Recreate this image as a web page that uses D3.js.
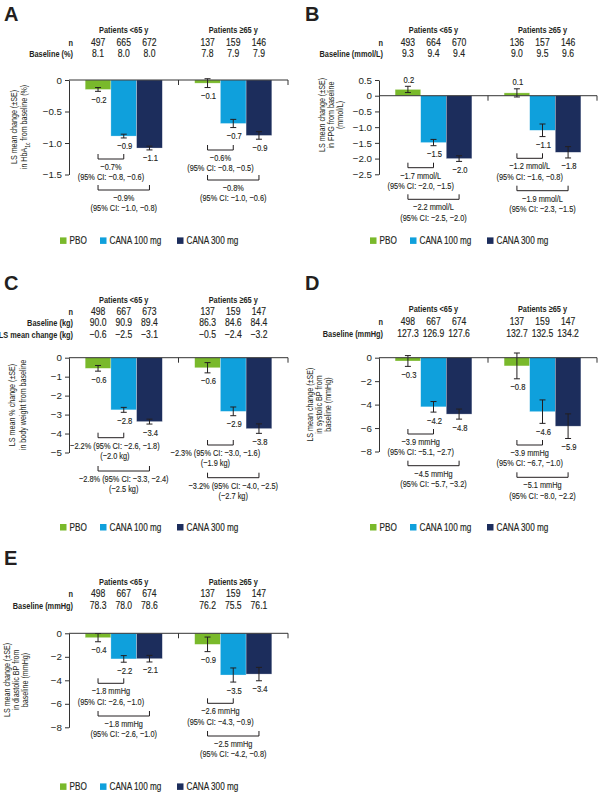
<!DOCTYPE html>
<html><head><meta charset="utf-8">
<script src="https://cdn.jsdelivr.net/npm/d3@7"></script>
<style>
html,body{margin:0;padding:0;background:#fff;}
svg{display:block;}
text{font-family:"Liberation Sans",Arial,Helvetica,sans-serif;fill:#231f20;}
.letter{font-weight:bold;font-size:20px;}
.hdr{font-weight:bold;font-size:9px;}
.cell{font-size:10.5px;stroke:#231f20;stroke-width:0.15px;}
.val{font-size:9.3px;stroke:#231f20;stroke-width:0.15px;}
.ann{font-size:9px;stroke:#231f20;stroke-width:0.12px;}
.ylab{font-size:8.7px;}
.leg{font-size:10px;stroke:#231f20;stroke-width:0.15px;}
.tick text{font-size:9.8px;fill:#231f20;}
</style></head><body>
<svg id="chart" width="600" height="792"></svg>
<script>
// ---------- shared categories ----------
const groups = ["Patients <65 y", "Patients \u226565 y"];
const treatments = ["PBO", "CANA 100 mg", "CANA 300 mg"];
const colors = ["#79b92b", "#0fa0dc", "#1c2d5c"];

// ---------- A: HbA1c ----------
const nA = [[497, 665, 672], [137, 159, 146]];
const baselineA = [[8.1, 8.0, 8.0], [7.8, 7.9, 7.9]];
const meanA = [[-0.15, -0.89, -1.08], [-0.05, -0.69, -0.88]];
const seA = [[0.03, 0.03, 0.03], [0.07, 0.065, 0.06]];
const labelA = [[-0.2, -0.9, -1.1], [-0.1, -0.7, -0.9]];
const diffA = [[["\u22120.7%", "(95% CI: \u22120.8, \u22120.6)"], ["\u22120.9%", "(95% CI: \u22121.0, \u22120.8)"]],
               [["\u22120.6%", "(95% CI: \u22120.8, \u22120.5)"], ["\u22120.8%", "(95% CI: \u22121.0, \u22120.6)"]]];
const ticksA = [0, -0.5, -1.0, -1.5];

// ---------- B: FPG ----------
const nB = [[493, 664, 670], [136, 157, 146]];
const baselineB = [[9.3, 9.4, 9.4], [9.0, 9.5, 9.6]];
const meanB = [[0.2, -1.49, -2.0], [0.09, -1.1, -1.8]];
const seB = [[0.1, 0.1, 0.09], [0.13, 0.2, 0.18]];
const labelB = [[0.2, -1.5, -2.0], [0.1, -1.1, -1.8]];
const diffB = [[["\u22121.7 mmol/L", "(95% CI: \u22122.0, \u22121.5)"], ["\u22122.2 mmol/L", "(95% CI: \u22122.5, \u22122.0)"]],
               [["\u22121.2 mmol/L", "(95% CI: \u22121.6, \u22120.8)"], ["\u22121.9 mmol/L", "(95% CI: \u22122.3, \u22121.5)"]]];
const ticksB = [0.5, 0, -0.5, -1.0, -1.5, -2.0, -2.5];

// ---------- C: body weight ----------
const nC = [[498, 667, 673], [137, 159, 147]];
const baselineC = [[90.0, 90.9, 89.4], [86.3, 84.6, 84.4]];
const kgChangeC = [[-0.6, -2.5, -3.1], [-0.5, -2.4, -3.2]];
const meanC = [[-0.56, -2.75, -3.37], [-0.53, -2.83, -3.74]];
const seC = [[0.15, 0.13, 0.13], [0.27, 0.23, 0.25]];
const labelC = [[-0.6, -2.8, -3.4], [-0.6, -2.9, -3.8]];
const diffC = [[["\u22122.2% (95% CI: \u22122.6, \u22121.8)", "(\u22122.0 kg)"], ["\u22122.8% (95% CI: \u22123.3, \u22122.4)", "(\u22122.5 kg)"]],
               [["\u22122.3% (95% CI: \u22123.0, \u22121.6)", "(\u22121.9 kg)"], ["\u22123.2% (95% CI: \u22124.0, \u22122.5)", "(\u22122.7 kg)"]]];
const ticksC = [0, -1, -2, -3, -4, -5];

// ---------- D: systolic BP ----------
const nD = [[498, 667, 674], [137, 159, 147]];
const baselineD = [[127.3, 126.9, 127.6], [132.7, 132.5, 134.2]];
const meanD = [[-0.28, -4.19, -4.81], [-0.7, -4.6, -5.84]];
const seD = [[0.46, 0.45, 0.43], [1.1, 1.0, 1.05]];
const labelD = [[-0.3, -4.2, -4.8], [-0.8, -4.6, -5.9]];
const diffD = [[["\u22123.9 mmHg", "(95% CI: \u22125.1, \u22122.7)"], ["\u22124.5 mmHg", "(95% CI: \u22125.7, \u22123.2)"]],
               [["\u22123.9 mmHg", "(95% CI: \u22126.7, \u22121.0)"], ["\u22125.1 mmHg", "(95% CI: \u22128.0, \u22122.2)"]]];
const ticksD = [0, -2, -4, -6, -8];

// ---------- E: diastolic BP ----------
const nE = [[498, 667, 674], [137, 159, 147]];
const baselineE = [[78.3, 78.0, 78.6], [76.2, 75.5, 76.1]];
const meanE = [[-0.37, -2.18, -2.16], [-0.94, -3.55, -3.47]];
const seE = [[0.35, 0.28, 0.28], [0.62, 0.6, 0.57]];
const labelE = [[-0.4, -2.2, -2.1], [-0.9, -3.5, -3.4]];
const diffE = [[["\u22121.8 mmHg", "(95% CI: \u22122.6, \u22121.0)"], ["\u22121.8 mmHg", "(95% CI: \u22122.6, \u22121.0)"]],
               [["\u22122.6 mmHg", "(95% CI: \u22124.3, \u22120.9)"], ["\u22122.5 mmHg", "(95% CI: \u22124.2, \u22120.8)"]]];
const ticksE = [0, -2, -4, -6, -8];

// ---------- panel definitions (data references) ----------
const f1 = d3.format(".1f"), fd = d3.format("d");
const tf1 = v => v === 0 ? "0" : f1(v);
const panels = [
  {id: "A", rows: [{label: "n", values: nA, fmt: fd}, {label: "Baseline (%)", values: baselineA, fmt: f1}],
   mean: meanA, se: seA, label: labelA, diff: diffA, ticks: ticksA, tfmt: tf1, domain: [0, -1.5],
   ylab: ["LS mean change (\u00b1SE)", "in HbA{1c} from baseline (%)"]},
  {id: "B", rows: [{label: "n", values: nB, fmt: fd}, {label: "Baseline (mmol/L)", values: baselineB, fmt: f1}],
   mean: meanB, se: seB, label: labelB, diff: diffB, ticks: ticksB, tfmt: tf1, domain: [0.5, -2.5],
   ylab: ["LS mean change (\u00b1SE)", "in FPG from baseline", "(mmol/L)"]},
  {id: "C", rows: [{label: "n", values: nC, fmt: fd}, {label: "Baseline (kg)", values: baselineC, fmt: f1},
                   {label: "LS mean change (kg)", values: kgChangeC, fmt: f1}],
   mean: meanC, se: seC, label: labelC, diff: diffC, ticks: ticksC, tfmt: fd, domain: [0, -5],
   ylab: ["LS mean % change (\u00b1SE)", "in body weight from baseline"]},
  {id: "D", rows: [{label: "n", values: nD, fmt: fd}, {label: "Baseline (mmHg)", values: baselineD, fmt: f1}],
   mean: meanD, se: seD, label: labelD, diff: diffD, ticks: ticksD, tfmt: fd, domain: [0, -8],
   ylab: ["LS mean change (\u00b1SE)", "in systolic BP from", "baseline (mmHg)"]},
  {id: "E", rows: [{label: "n", values: nE, fmt: fd}, {label: "Baseline (mmHg)", values: baselineE, fmt: f1}],
   mean: meanE, se: seE, label: labelE, diff: diffE, ticks: ticksE, tfmt: fd, domain: [0, -8],
   ylab: ["LS mean change (\u00b1SE)", "in diastolic BP from", "baseline (mmHg)"]}
];

// ---------- layout (positions only) ----------
const layouts = {
  A: {lx: 4, ly: 21, x0: 69, x1: 288, yTop: 80, yBot: 174.5, rows: [32.5, 45.5, 56.5], legY: 240.7,
      ylabX: [13.5, 24], ylabY: 127, br: [[159, 190], [150, 180]], brDx: [[0, 0], [0, 0]]},
  B: {lx: 305, ly: 21, x0: 379, x1: 597, yTop: 80, yBot: 174.3, rows: [32.5, 45.5, 56.5], legY: 240.7,
      ylabX: [322, 331, 340], ylabY: 115, br: [[167.7, 199.3], [158.3, 190.7]], brDx: [[0, 0], [0, 0]]},
  C: {lx: 4, ly: 290, x0: 69, x1: 288, yTop: 357.7, yBot: 452.5, rows: [302.5, 314.5, 326, 338], legY: 527.3,
      ylabX: [12, 23], ylabY: 405, br: [[437.7, 471], [445, 477.7]], brDx: [[4, 0], [-5, 0]]},
  D: {lx: 305, ly: 290, x0: 379, x1: 597, yTop: 357.7, yBot: 451.5, rows: [311.5, 324.5, 336.8], legY: 527.3,
      ylabX: [310, 319, 328], ylabY: 404.6, br: [[434, 465.7], [445, 477.3]], brDx: [[0, 0], [0, 0]]},
  E: {lx: 4, ly: 565, x0: 69, x1: 288, yTop: 633.3, yBot: 727.3, rows: [584.5, 597, 608.5], legY: 786.7,
      ylabX: [7, 16, 25], ylabY: 680, br: [[683.3, 716], [703.3, 736]], brDx: [[0, 0], [0, 0]]}
};

const svg = d3.select("#chart");
const ink = "#231f20";
const SX = 0.82, SY = 1.05; // condensed face look

function ntext(parent, x, y, str, cls, anchor) {
  return parent.append("text").attr("class", cls).attr("text-anchor", anchor || "start")
    .attr("transform", `translate(${x},${y}) scale(${SX},${SY})`).text(str);
}

function addRich(sel, str) {
  const parts = str.split(/(\{[^}]*\})/);
  parts.forEach(pt => {
    if (!pt) return;
    if (pt[0] === "{") sel.append("tspan").attr("baseline-shift", "sub").attr("font-size", "6px").text(pt.slice(1, -1));
    else sel.append("tspan").text(pt);
  });
}

function drawPanel(P, L) {
  const g = svg.append("g");
  const xG = d3.scaleBand().domain(groups).range([L.x0, L.x1]);
  const xT = d3.scaleBand().domain(treatments).range([0, xG.bandwidth()]).paddingOuter(0.63);
  const y = d3.scaleLinear().domain(P.domain).range([L.yTop, L.yBot]);
  const bx = (gi, ti) => xG(groups[gi]) + xT(treatments[ti]);
  const cx = (gi, ti) => bx(gi, ti) + xT.bandwidth() / 2;

  g.append("text").attr("class", "letter").attr("x", L.lx).attr("y", L.ly).text(P.id);

  // header table
  groups.forEach((grp, gi) => ntext(g, xG(grp) + xG.bandwidth() / 2, L.rows[0], grp, "hdr", "middle"));
  P.rows.forEach((r, ri) => {
    const yy = L.rows[ri + 1];
    ntext(g, L.x0 + 4, yy, r.label, "hdr", "end");
    groups.forEach((grp, gi) => treatments.forEach((t, ti) =>
      ntext(g, cx(gi, ti), yy, r.fmt(r.values[gi][ti]), "cell", "middle")));
  });

  const flat = [];
  groups.forEach((grp, gi) => treatments.forEach((t, ti) =>
    flat.push({gi, ti, v: P.mean[gi][ti], se: P.se[gi][ti], lbl: P.label[gi][ti]})));

  // bars
  g.selectAll("rect.bar").data(flat).join("rect").attr("class", "bar")
    .attr("x", d => bx(d.gi, d.ti)).attr("width", xT.bandwidth())
    .attr("y", d => y(Math.max(0, d.v))).attr("height", d => Math.abs(y(d.v) - y(0)))
    .attr("fill", d => colors[d.ti]).attr("stroke", "#ffffff").attr("stroke-opacity", 0.45).attr("stroke-width", 0.6);

  // error bars
  const eb = g.selectAll("g.eb").data(flat).join("g").attr("class", "eb")
    .attr("stroke", ink).attr("stroke-width", 1);
  eb.append("line").attr("x1", d => cx(d.gi, d.ti)).attr("x2", d => cx(d.gi, d.ti))
    .attr("y1", d => y(d.v + d.se)).attr("y2", d => y(d.v - d.se));
  eb.append("line").attr("x1", d => cx(d.gi, d.ti) - 3).attr("x2", d => cx(d.gi, d.ti) + 3)
    .attr("y1", d => y(d.v + d.se)).attr("y2", d => y(d.v + d.se));
  eb.append("line").attr("x1", d => cx(d.gi, d.ti) - 3).attr("x2", d => cx(d.gi, d.ti) + 3)
    .attr("y1", d => y(d.v - d.se)).attr("y2", d => y(d.v - d.se));

  // value labels
  flat.forEach(d => ntext(g, cx(d.gi, d.ti) + 1,
    d.lbl >= 0 ? y(d.v + d.se) - 3.5 : y(d.v - d.se) + 11.5, f1(d.lbl), "val", "middle"));

  // y axis
  const ax = g.append("g").attr("transform", `translate(${L.x0},0)`)
    .call(d3.axisLeft(y).tickValues(P.ticks).tickFormat(P.tfmt).tickSize(4).tickSizeOuter(0).tickPadding(3));
  ax.selectAll("path,line").attr("stroke", "#333").attr("stroke-width", 1);
  ax.attr("font-family", null).attr("font-size", null);

  // x axis at zero
  g.append("line").attr("x1", L.x0).attr("x2", L.x1).attr("y1", y(0)).attr("y2", y(0))
    .attr("stroke", "#333").attr("stroke-width", 1);
  groups.forEach(grp => {
    const xx = xG(grp) + xG.bandwidth();
    g.append("line").attr("x1", xx).attr("x2", xx).attr("y1", y(0)).attr("y2", y(0) + 5)
      .attr("stroke", "#333").attr("stroke-width", 1);
  });

  // comparison brackets
  groups.forEach((grp, gi) => [1, 2].forEach((ti, k) => {
    const xa = cx(gi, 0), xb = cx(gi, ti), yy = L.br[gi][k];
    g.append("path").attr("d", `M${xa},${yy - 5}V${yy}H${xb}V${yy - 5}`)
      .attr("fill", "none").attr("stroke", ink).attr("stroke-width", 1);
    const mid = (xa + xb) / 2 + L.brDx[gi][k];
    P.diff[gi][k].forEach((line, li) => ntext(g, mid, yy + 11 + li * 10.3, line, "ann", "middle"));
  }));

  // y label
  P.ylab.forEach((line, li) => {
    const t = g.append("text").attr("class", "ylab").attr("text-anchor", "middle")
      .attr("dominant-baseline", "central")
      .attr("transform", `translate(${L.ylabX[li]},${L.ylabY}) rotate(-90) scale(${SX},${SY})`);
    addRich(t, line);
  });

  // legend
  const lg = g.append("g").attr("transform", `translate(${L.x0 - 9},${L.legY})`);
  const offs = [0, 40, 117];
  treatments.forEach((t, ti) => {
    lg.append("rect").attr("x", offs[ti]).attr("y", -3.3).attr("width", 6.5).attr("height", 6.5).attr("fill", colors[ti]);
    ntext(lg, offs[ti] + 9.5, 3.6, t, "leg", "start");
  });
}

panels.forEach(P => drawPanel(P, layouts[P.id]));
</script></body></html>
